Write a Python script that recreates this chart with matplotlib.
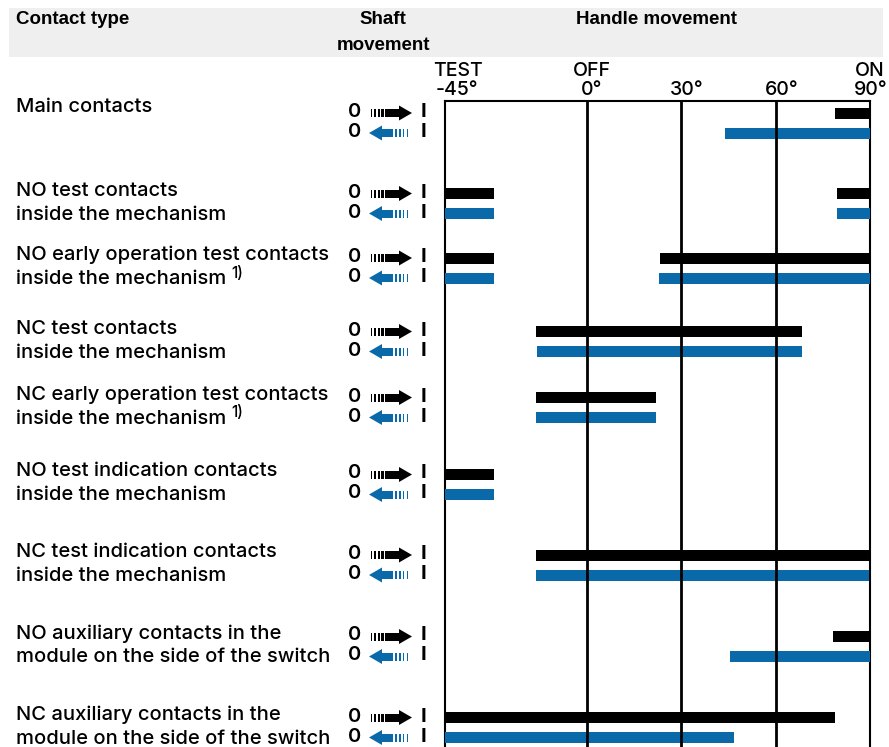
import matplotlib
matplotlib.use("Agg")
import matplotlib.pyplot as plt
from matplotlib.patches import Rectangle, Polygon
from matplotlib.transforms import blended_transform_factory

plt.rcParams['font.family'] = ['Inter', 'DejaVu Sans']

# contact types (two text lines each, footnote flag)
contact_labels = [
    ("Main contacts", ""),
    ("NO test contacts", "inside the mechanism"),
    ("NO early operation test contacts", "inside the mechanism"),
    ("NC test contacts", "inside the mechanism"),
    ("NC early operation test contacts", "inside the mechanism"),
    ("NO test indication contacts", "inside the mechanism"),
    ("NC test indication contacts", "inside the mechanism"),
    ("NO auxiliary contacts in the", "module on the side of the switch"),
    ("NC auxiliary contacts in the", "module on the side of the switch"),
]
footnote = [False, False, True, False, True, False, False, False, False]

# closed ranges in handle degrees, shaft 0 -> I (black) and I -> 0 (blue)
closed_fwd = [
    [(79, 90)],
    [(-45, -29.5), (79.5, 90)],
    [(-45, -29.5), (23.3, 90)],
    [(-16, 68.5)],
    [(-16, 22)],
    [(-45, -29.5)],
    [(-16, 90)],
    [(78.2, 90)],
    [(-45, 79)],
]
closed_back = [
    [(44, 90)],
    [(-45, -29.5), (79.5, 90)],
    [(-45, -29.5), (23, 90)],
    [(-15.8, 68.5)],
    [(-16, 22)],
    [(-45, -29.5)],
    [(-16, 89.7)],
    [(45.5, 90)],
    [(-45, 46.8)],
]

tick_deg = [-45, 0, 30, 60, 90]
tick_deg_labels = ["-45°", "0°", "30°", "60°", "90°"]
tick_pos_names = ["TEST", "OFF", "", "", "ON"]

BLUE = "#0a69a9"
W, H = 889, 747

# layout (pixel rows)
row_y = [123, 203.5, 268, 341.5, 407.5, 484.5, 565, 646.5, 727.5]
pair_off = 10

fig = plt.figure(figsize=(W / 100, H / 100), dpi=100)
bg = fig.add_axes([0, 0, 1, 1])
bg.set_xlim(0, W)
bg.set_ylim(H, 0)
bg.axis("off")

# header band
bg.add_patch(Rectangle((9, 8), 874, 49, color="#efefef", lw=0))
hdr = dict(fontsize=13.5, fontweight="bold", va="center",
           family=['Liberation Sans'])
bg.text(16, 20, "Contact type", ha="left", **hdr)
bg.text(383, 20, "Shaft", ha="center", **hdr)
bg.text(383, 45, "movement", ha="center", **hdr)
bg.text(657, 20, "Handle movement", ha="center", **hdr)

# diagram axes, y in pixel units
top = 101
ax = fig.add_axes([445 / W, 0, 425 / W, (H - top) / H])
ax.set_xlim(-45, 90)
ax.set_ylim(H, top)
ax.set_xticks([])
ax.set_yticks([])
ax.spines["bottom"].set_visible(False)
for s in ("top", "left", "right"):
    ax.spines[s].set_linewidth(1.5)
for d in tick_deg[1:-1]:
    ax.axvline(d, color="black", lw=2, zorder=5)

for y, fwd, back in zip(row_y, closed_fwd, closed_back):
    for a, b in fwd:
        ax.barh(y - pair_off, b - a, left=a, height=11, color="black", zorder=3)
    for a, b in back:
        ax.barh(y + pair_off, b - a, left=a, height=11, color=BLUE, zorder=3)

# angle and position labels above the frame
tr = blended_transform_factory(ax.transData, bg.transData)
deg_shift = [3.8, 1.6, 1.8, 1.8, 0.3]
name_shift = [4.1, 1.6, 0, 0, 0]
for d, lab, name, ds, ns in zip(tick_deg, tick_deg_labels, tick_pos_names,
                                deg_shift, name_shift):
    ax.text(d + ds, 90, lab, transform=tr, ha="center", va="center",
            fontsize=14, fontweight="medium", clip_on=False)
    if name:
        ax.text(d + ns, 71, name, transform=tr, ha="center", va="center",
                fontsize=14, fontweight="medium", clip_on=False)


def shaft_arrow(y, forward, color):
    # striped tail, solid body, triangular head
    if forward:
        for i, x in enumerate([370.5, 374, 377.5, 381, 384.5]):
            w = 1.4 + 0.45 * i
            bg.add_patch(Rectangle((x, y - 4), w, 8, color=color, lw=0))
        bg.add_patch(Rectangle((388, y - 4), 11.5, 8, color=color, lw=0))
        bg.add_patch(Polygon([(399, y - 7.5), (412, y), (399, y + 7.5)],
                             closed=True, color=color, lw=0))
    else:
        bg.add_patch(Polygon([(382, y - 7.5), (369, y), (382, y + 7.5)],
                             closed=True, color=color, lw=0))
        bg.add_patch(Rectangle((381.5, y - 4), 11.5, 8, color=color, lw=0))
        for i, x in enumerate([394.5, 398.5, 402.5, 406.5]):
            w = 2.7 - 0.4 * i
            bg.add_patch(Rectangle((x, y - 4), w, 8, color=color, lw=0))


lab_kw = dict(fontsize=14.5, fontweight="medium", va="center", ha="left")
for k, (y, (l1, l2)) in enumerate(zip(row_y, contact_labels)):
    if l2:
        bg.text(16, y - 13, l1, **lab_kw)
        t2 = bg.text(16, y + 11, l2, **lab_kw)
        if footnote[k]:
            fig.canvas.draw()
            x_end = bg.transData.inverted().transform(t2.get_window_extent())[1, 0]
            bg.text(x_end + 5, y + 5, "1)", fontsize=11, fontweight="medium",
                    va="center", ha="left")
    else:
        bg.text(16, y - 16, l1, **lab_kw)
    for yy, fwd, col in ((y - pair_off, True, "black"), (y + pair_off, False, BLUE)):
        bg.text(355, yy - 1, "0", fontsize=14.5, fontweight="semibold",
                ha="center", va="center")
        bg.text(423, yy - 1, "I", fontsize=14.5, fontweight="bold",
                ha="center", va="center")
        shaft_arrow(yy, fwd, col)

fig.savefig("out.png", dpi=100)
